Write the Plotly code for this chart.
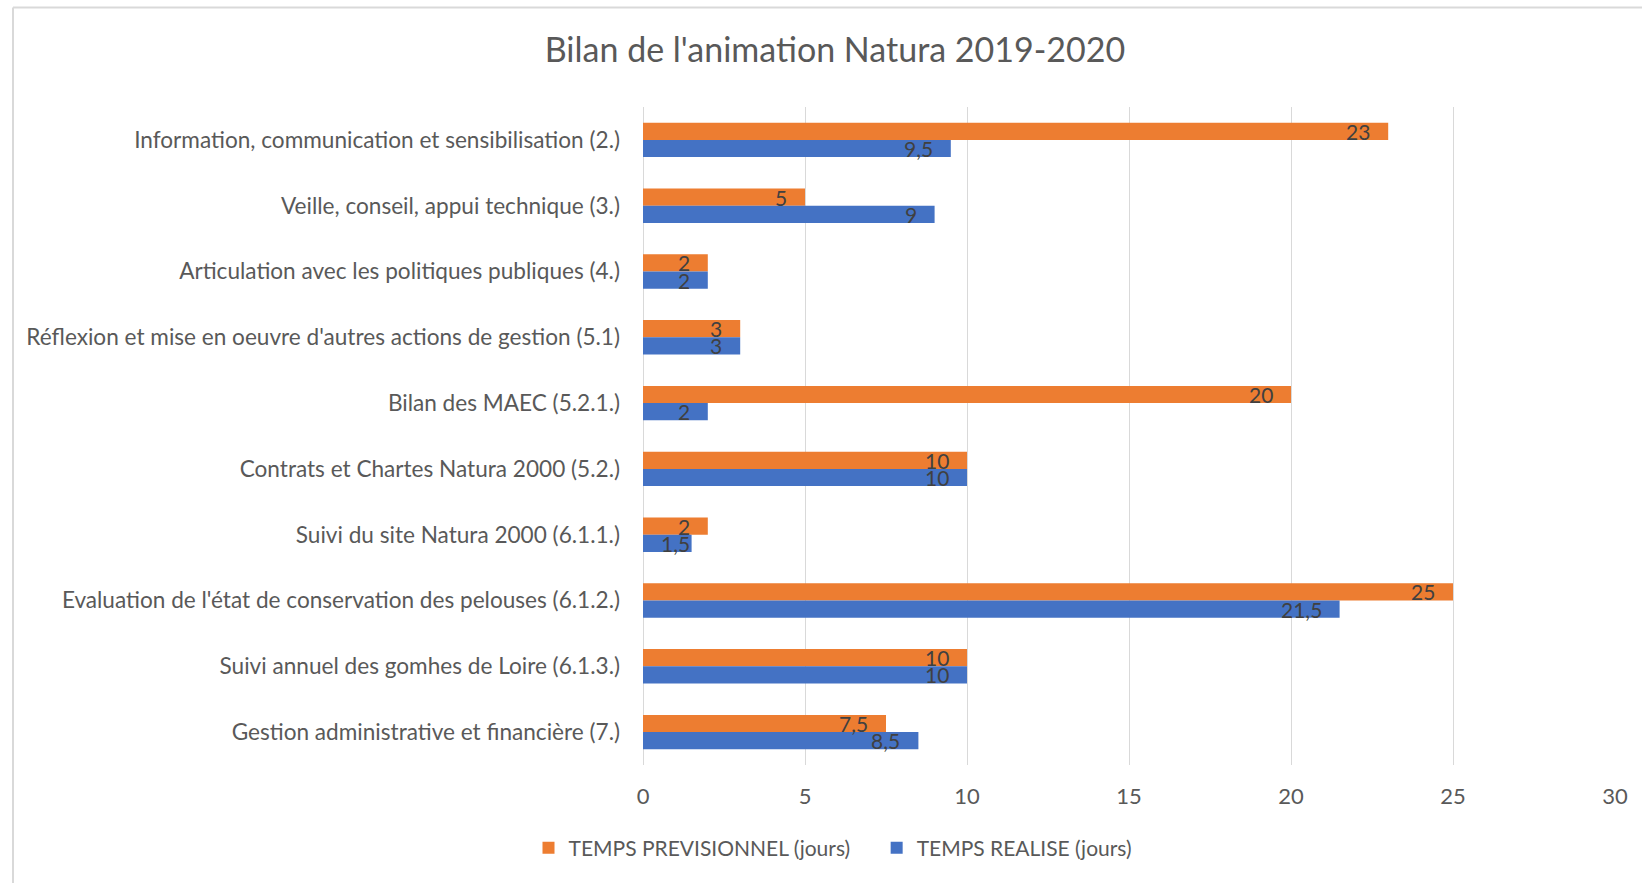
import plotly.graph_objects as go

categories = [
    "Information, communication et sensibilisation (2.)",
    "Veille, conseil, appui technique (3.)",
    "Articulation avec les politiques publiques (4.)",
    "Réflexion et mise en oeuvre d'autres actions de gestion (5.1)",
    "Bilan des MAEC (5.2.1.)",
    "Contrats et Chartes Natura 2000 (5.2.)",
    "Suivi du site Natura 2000 (6.1.1.)",
    "Evaluation de l'état de conservation des pelouses (6.1.2.)",
    "Suivi annuel des gomhes de Loire (6.1.3.)",
    "Gestion administrative et financière (7.)",
]
temps_previsionnel = [23, 5, 2, 3, 20, 10, 2, 25, 10, 7.5]
temps_realise = [9.5, 9, 2, 3, 2, 10, 1.5, 21.5, 10, 8.5]
series_names = ["TEMPS PREVISIONNEL (jours)", "TEMPS REALISE (jours)"]
x_ticks = [0, 5, 10, 15, 20, 25, 30]

ORANGE = "#ED7D31"
BLUE = "#4472C4"
GRAY = "#595959"
FONT = "Lato, Carlito, Calibri, sans-serif"

W, H = 1642, 883
L, R, T, B = 643, 27, 107, 118
plot_w = W - L - R
px_per_unit = plot_w / 30


def fmt(v):
    return ("%g" % v).replace(".", ",")


fig = go.Figure()
for name, vals, col in [(series_names[0] + "\u00a0" * 4, temps_previsionnel, ORANGE),
                        (series_names[1], temps_realise, BLUE)]:
    fig.add_trace(go.Bar(
        y=categories, x=vals, name=name, orientation="h",
        marker=dict(color=col, line=dict(color=col, width=0)),
        hoverinfo="x+y",
    ))

# data labels (inside end, Excel-like padding)
annotations = []
for vals, yshift in [(temps_previsionnel, 8.6), (temps_realise, -8.6)]:
    for c, v in zip(categories, vals):
        txt = fmt(v)
        est_w = 10.5 * len(txt)
        if v * px_per_unit >= est_w + 34:
            annotations.append(dict(x=v, y=c, text=txt, showarrow=False,
                                    xanchor="right", xshift=-16, yshift=yshift,
                                    yanchor="middle",
                                    font=dict(family=FONT, size=21, color="#404040")))
        else:
            annotations.append(dict(x=0, y=c, text=txt, showarrow=False,
                                    xanchor="left", xshift=16, yshift=yshift,
                                    yanchor="middle",
                                    font=dict(family=FONT, size=21, color="#404040")))

# outer chart border (top & left, as in the reference crop)
x0 = (13 - L) / plot_w
y0 = 1 + (T - 7.5) / (H - T - B)
shapes = [
    dict(type="line", xref="paper", yref="paper", x0=x0, x1=1.2, y0=y0, y1=y0,
         line=dict(color="#D9D9D9", width=2)),
    dict(type="line", xref="paper", yref="paper", x0=x0, x1=x0, y0=y0, y1=-0.3,
         line=dict(color="#D9D9D9", width=2)),
]

fig.update_layout(
    width=W, height=H,
    margin=dict(l=L, r=R, t=T, b=B, autoexpand=False),
    paper_bgcolor="white", plot_bgcolor="white",
    barmode="group", bargap=0.477, bargroupgap=0,
    font=dict(family=FONT, color=GRAY, size=22),
    title=dict(text="Bilan de l'animation Natura 2019-2020",
               x=835 / W, xanchor="center", xref="container",
               y=1 - 50 / H, yanchor="middle", yref="container",
               font=dict(family=FONT, size=34, color=GRAY)),
    xaxis=dict(range=[0, 30], tickvals=x_ticks, showgrid=True,
               gridcolor="#D9D9D9", gridwidth=1.3, zeroline=True,
               zerolinecolor="#D9D9D9", zerolinewidth=1.3, showline=False,
               ticklabelstandoff=16, fixedrange=True,
               tickfont=dict(family=FONT, size=22, color=GRAY)),
    yaxis=dict(autorange="reversed", showgrid=False, showline=False,
               ticklabelstandoff=22, fixedrange=True,
               tickfont=dict(family=FONT, size=22.6, color=GRAY)),
    legend=dict(orientation="h", xref="container", yref="container",
                x=833 / W, xanchor="center", y=1 - 848 / H, yanchor="middle",
                font=dict(family=FONT, size=21, color=GRAY),
                traceorder="normal", itemwidth=30),
    annotations=annotations,
    shapes=shapes,
    showlegend=True,
)

fig.write_html(
    "out.html",
    config={"displayModeBar": False},
    post_script="document.body.style.margin='0';document.body.style.overflow='hidden';",
)
